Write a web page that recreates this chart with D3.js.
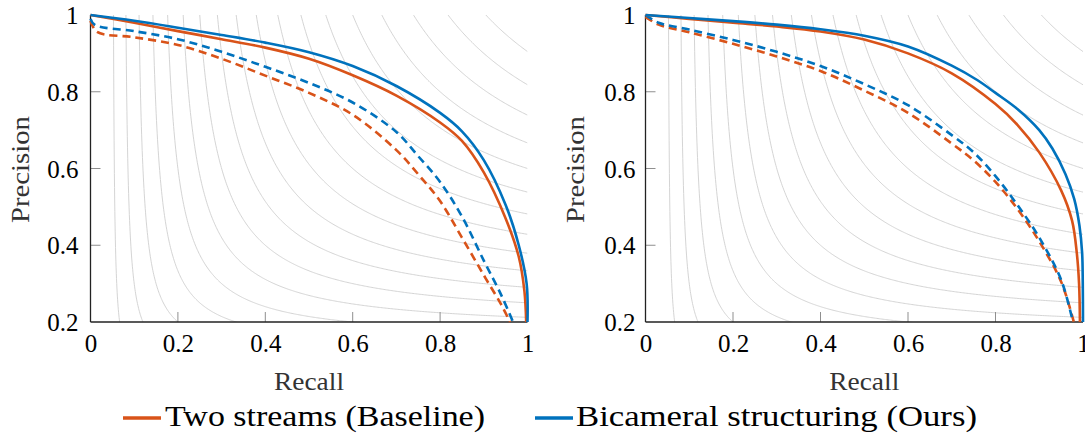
<!DOCTYPE html>
<html><head><meta charset="utf-8">
<script src="https://cdn.jsdelivr.net/npm/d3@7"></script>
<style>html,body{margin:0;padding:0;background:#fff;} svg{display:block;}</style>
</head><body>
<svg id="chart" width="1085" height="437"></svg>
<script>
// ---------- data ----------
const recallTicks = [0, 0.2, 0.4, 0.6, 0.8, 1];
const precisionTicks = [0.2, 0.4, 0.6, 0.8, 1];
const isoF = [0.1, 0.15, 0.2, 0.25, 0.3, 0.35, 0.4, 0.45, 0.5, 0.55, 0.6, 0.65, 0.7, 0.75, 0.8, 0.85, 0.9, 0.95];
const seriesNames = ["Two streams (Baseline)", "Bicameral structuring (Ours)"];

// left panel  [recall, precision]
const leftTwoSolid = [[0,1],[0.1,0.98],[0.2,0.958],[0.3,0.937],[0.4,0.915],[0.5,0.886],[0.6,0.843],[0.7,0.79],[0.8,0.72],[0.85,0.672],[0.9,0.59],[0.95,0.47],[0.98,0.37],[0.993,0.28],[0.997,0.2]];
const leftOursSolid = [[0,1],[0.1,0.985],[0.2,0.967],[0.3,0.948],[0.4,0.928],[0.5,0.903],[0.6,0.867],[0.7,0.815],[0.8,0.745],[0.85,0.697],[0.9,0.622],[0.95,0.505],[0.98,0.4],[0.998,0.3],[1,0.2]];
const leftTwoDashed = [[0,0.985],[0.015,0.956],[0.1,0.942],[0.2,0.922],[0.3,0.886],[0.4,0.842],[0.5,0.797],[0.6,0.74],[0.7,0.648],[0.75,0.585],[0.8,0.515],[0.85,0.42],[0.9,0.322],[0.94,0.245],[0.96,0.2]];
const leftOursDashed = [[0,0.99],[0.01,0.974],[0.1,0.958],[0.2,0.937],[0.3,0.904],[0.4,0.865],[0.5,0.823],[0.6,0.772],[0.7,0.695],[0.75,0.632],[0.8,0.565],[0.85,0.475],[0.9,0.36],[0.94,0.27],[0.967,0.2]];

// right panel
const rightTwoSolid = [[0,1],[0.1,0.99],[0.2,0.98],[0.3,0.97],[0.4,0.957],[0.5,0.936],[0.6,0.9],[0.7,0.848],[0.8,0.768],[0.85,0.714],[0.9,0.642],[0.95,0.543],[0.975,0.464],[0.986,0.378],[0.991,0.3],[0.993,0.2]];
const rightOursSolid = [[0,1],[0.1,0.992],[0.2,0.984],[0.3,0.975],[0.4,0.963],[0.5,0.946],[0.6,0.918],[0.7,0.868],[0.759,0.83],[0.8,0.797],[0.85,0.755],[0.9,0.7],[0.93,0.652],[0.96,0.585],[0.98,0.52],[0.992,0.45],[0.998,0.38],[0.9995,0.3],[1,0.2]];
const rightTwoDashed = [[0,0.995],[0.03,0.975],[0.1,0.955],[0.2,0.925],[0.3,0.892],[0.4,0.854],[0.5,0.803],[0.6,0.745],[0.7,0.665],[0.75,0.621],[0.8,0.565],[0.85,0.495],[0.9,0.41],[0.95,0.305],[0.979,0.2]];
const rightOursDashed = [[0,1],[0.03,0.98],[0.1,0.962],[0.2,0.935],[0.3,0.904],[0.4,0.867],[0.5,0.82],[0.6,0.765],[0.7,0.687],[0.75,0.642],[0.8,0.58],[0.85,0.505],[0.9,0.42],[0.95,0.31],[0.977,0.2]];

// ---------- drawing ----------
const ORANGE = "#D95319", BLUE = "#0072BD";
const svg = d3.select("#chart");
const FONT = "'Liberation Serif', 'Times New Roman', serif";

const panels = [
  {x0: 90.5, x1: 527.5, y0: 322, y1: 15, ylab: 20, labGap: 12,
   series: [[leftTwoDashed, ORANGE, true], [leftOursDashed, BLUE, true], [leftTwoSolid, ORANGE, false], [leftOursSolid, BLUE, false]]},
  {x0: 645.5, x1: 1083, y0: 322, y1: 15, ylab: 575, labGap: 10,
   series: [[rightTwoDashed, ORANGE, true], [rightOursDashed, BLUE, true], [rightTwoSolid, ORANGE, false], [rightOursSolid, BLUE, false]]}
];

const defs = svg.append("defs");

panels.forEach((p, i) => {
  const x = d3.scaleLinear().domain([0, 1]).range([p.x0, p.x1]);
  const y = d3.scaleLinear().domain([0.2, 1]).range([p.y0, p.y1]);
  const g = svg.append("g");

  defs.append("clipPath").attr("id", "clip" + i)
    .append("rect").attr("x", p.x0).attr("y", p.y1).attr("width", p.x1 - p.x0).attr("height", p.y0 - p.y1);

  // iso-F curves
  const isoLine = d3.line().x(d => x(d[0])).y(d => y(d[1]));
  const gi = g.append("g").attr("clip-path", `url(#clip${i})`);
  isoF.forEach(F => {
    const pts = [];
    const rStart = F / 2;
    for (let k = 0; k <= 400; k++) {
      const r = rStart + (1 - rStart) * Math.pow(k / 400, 2);
      const pr = F * r / (2 * r - F);
      if (!isFinite(pr) || pr > 1.05) continue;
      pts.push([r, pr]);
    }
    gi.append("path").attr("d", isoLine(pts)).attr("fill", "none")
      .attr("stroke", "#cfcfcf").attr("stroke-width", 0.9);
  });

  // axes (left & bottom only, inward ticks)
  const xAxis = d3.axisBottom(x).tickValues(recallTicks).tickSize(0).tickPadding(0).tickFormat(d3.format("~g"));
  const yAxis = d3.axisLeft(y).tickValues(precisionTicks).tickSize(0).tickFormat(d3.format("~g"));

  const gx = g.append("g").attr("transform", `translate(0,${p.y0})`).call(xAxis);
  gx.select(".domain").remove();
  gx.selectAll("text").attr("font-family", FONT).attr("font-size", 25).attr("fill", "#000")
    .attr("dy", null).attr("y", 30);
  const gy = g.append("g").attr("transform", `translate(${p.x0},0)`).call(yAxis);
  gy.select(".domain").remove();
  gy.selectAll("text").attr("font-family", FONT).attr("font-size", 25).attr("fill", "#000")
    .attr("x", -p.labGap).attr("dy", "0.34em");

  // inward tick marks
  recallTicks.filter(t => t > 0 && t < 1).forEach(t => {
    g.append("line").attr("x1", x(t)).attr("x2", x(t)).attr("y1", p.y0).attr("y2", p.y0 - 10)
      .attr("stroke", "#8f8f8f").attr("stroke-width", 1);
  });
  precisionTicks.filter(t => t > 0.2 && t < 1).forEach(t => {
    g.append("line").attr("x1", p.x0).attr("x2", p.x0 + 10).attr("y1", y(t)).attr("y2", y(t))
      .attr("stroke", "#8f8f8f").attr("stroke-width", 1);
  });

  g.append("line").attr("x1", p.x0).attr("x2", p.x1).attr("y1", p.y0).attr("y2", p.y0)
    .attr("stroke", "#222").attr("stroke-width", 1.3);
  g.append("line").attr("x1", p.x0).attr("x2", p.x0).attr("y1", p.y0).attr("y2", p.y1)
    .attr("stroke", "#222").attr("stroke-width", 1.3);

  // axis titles
  g.append("text").attr("x", (p.x0 + p.x1) / 2).attr("y", 390).attr("text-anchor", "middle")
    .attr("font-family", FONT).attr("font-size", 25).attr("fill", "#333")
    .attr("textLength", 70).attr("lengthAdjust", "spacingAndGlyphs").text("Recall");
  g.append("text").attr("transform", `translate(${p.ylab + 9},${(p.y0 + p.y1) / 2 + 1}) rotate(-90)`)
    .attr("text-anchor", "middle").attr("font-family", FONT).attr("font-size", 25).attr("fill", "#333")
    .attr("textLength", 107).attr("lengthAdjust", "spacingAndGlyphs").text("Precision");

  // data curves
  const line = d3.line().x(d => x(d[0])).y(d => y(d[1])).curve(d3.curveCatmullRom.alpha(0.5));
  p.series.forEach(([data, color, dashed]) => {
    g.append("path").attr("d", line(data)).attr("fill", "none")
      .attr("stroke", color).attr("stroke-width", 2.6)
      .attr("stroke-dasharray", dashed ? "8,5" : null);
  });
});

// legend
const legend = [
  {name: seriesNames[0], color: ORANGE, lx: 123, tx: 165, tw: 320},
  {name: seriesNames[1], color: BLUE, lx: 535, tx: 576, tw: 401}
];
legend.forEach(l => {
  svg.append("line").attr("x1", l.lx).attr("x2", l.lx + 38).attr("y1", 418).attr("y2", 418)
    .attr("stroke", l.color).attr("stroke-width", 3.5);
  svg.append("text").attr("x", l.tx).attr("y", 426).attr("font-family", FONT).attr("font-size", 30)
    .attr("fill", "#000").attr("textLength", l.tw).attr("lengthAdjust", "spacingAndGlyphs").text(l.name);
});
</script>
</body></html>
